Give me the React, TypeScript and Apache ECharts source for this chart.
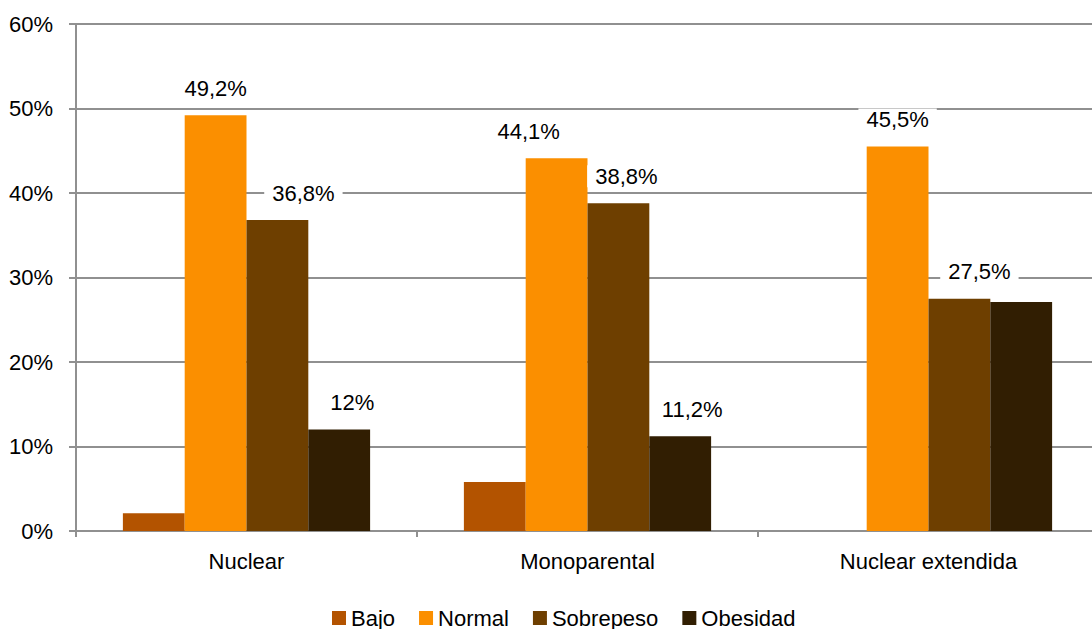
import React, { useEffect, useRef } from "react";
import * as echarts from "echarts";

const categories = ["Nuclear", "Monoparental", "Nuclear extendida"];
const seriesNames = ["Bajo", "Normal", "Sobrepeso", "Obesidad"];
const bajo = [2.1, 5.8, 0];
const normal = [49.2, 44.1, 45.5];
const sobrepeso = [36.8, 38.8, 27.5];
const obesidad = [12, 11.2, 27.1];
const yTicks = [0, 10, 20, 30, 40, 50, 60];

// which values carry a label, and how far each label is nudged sideways
const labelShown = [
  [false, false, false],
  [true, true, true],
  [true, true, true],
  [true, true, false],
];
const labelShiftX = [
  [0, 0, 0],
  [0, -28, 0],
  [26, 8, 20],
  [13, 12, 0],
];

const colors = ["#B35300", "#FB8F00", "#6E3F00", "#311E02"];
const FONT = "'Liberation Sans', Arial, sans-serif";
const GRID = "#909090";

const fmt = (v: number) => String(v).replace(".", ",") + "%";

export default function App() {
  const ref = useRef<HTMLDivElement>(null);
  useEffect(() => {
    if (!ref.current) return;
    const chart = echarts.init(ref.current, undefined, { renderer: "svg" });
    const all = [bajo, normal, sobrepeso, obesidad];
    const series = all.map((vals, si) => ({
      name: seriesNames[si],
      type: "bar",
      barGap: "0%",
      barCategoryGap: "27.5%",
      itemStyle: { color: colors[si] },
      data: vals.map((v, ci) => ({
        value: v,
        label: {
          show: labelShown[si][ci],
          offset: [labelShiftX[si][ci], 0],
        },
      })),
      label: {
        position: "top",
        distance: 16,
        formatter: (p: any) => fmt(p.value),
        color: "#000",
        fontFamily: FONT,
        fontSize: 22,
        backgroundColor: "#fff",
        padding: [0, 8],
      },
    }));
    chart.setOption({
      animation: false,
      textStyle: { fontFamily: FONT },
      grid: { left: 76, right: 11, top: 24, bottom: 98, containLabel: false },
      legend: {
        data: seriesNames,
        left: 332,
        top: 607,
        padding: 0,
        icon: "rect",
        itemWidth: 14,
        itemHeight: 14,
        itemGap: 24,
        textStyle: { fontFamily: FONT, fontSize: 22, color: "#000" },
      },
      xAxis: {
        type: "category",
        data: categories,
        axisLine: { lineStyle: { color: GRID, width: 2 } },
        axisTick: { show: true, length: 6, lineStyle: { color: GRID, width: 2 } },
        axisLabel: { fontFamily: FONT, fontSize: 22, color: "#000", margin: 19 },
      },
      yAxis: {
        type: "value",
        min: yTicks[0],
        max: yTicks[yTicks.length - 1],
        interval: 10,
        axisLine: { show: true, lineStyle: { color: GRID, width: 2 } },
        axisTick: { show: true, length: 7, lineStyle: { color: GRID, width: 2 } },
        axisLabel: {
          formatter: (v: number) => v + "%",
          fontFamily: FONT,
          fontSize: 22,
          color: "#000",
          margin: 23,
        },
        splitLine: { show: true, lineStyle: { color: GRID, width: 2 } },
      },
      series,
    });
    return () => chart.dispose();
  }, []);
  return (
    <div
      style={{
        position: "absolute",
        left: 0,
        top: 0,
        width: 1092,
        height: 629,
        overflow: "hidden",
      }}
    >
      <div ref={ref} style={{ position: "absolute", left: 0, top: 0, width: 1110, height: 629 }} />
    </div>
  );
}
